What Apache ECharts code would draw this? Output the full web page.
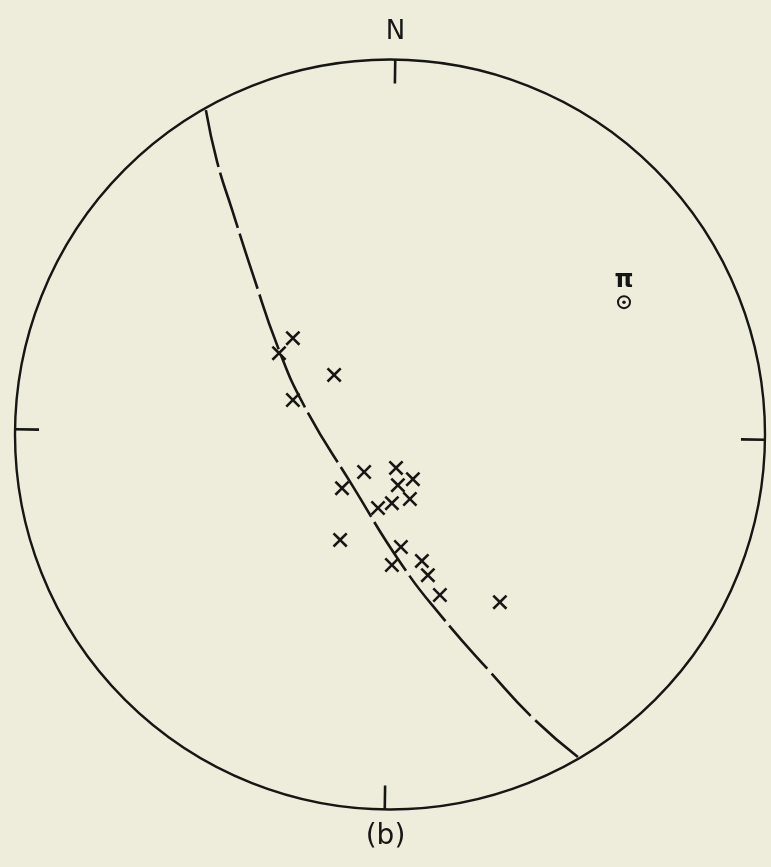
<!DOCTYPE html>
<html>
<head>
<meta charset="utf-8">
<script src="https://cdn.jsdelivr.net/npm/echarts@6/dist/echarts.min.js"></script>
<style>
  html, body { margin: 0; padding: 0; background: #eeeddb; }
  #net { width: 771px; height: 867px; }
</style>
</head>
<body>
<div id="net"></div>
<script>
// stereonet coords: x = east, y = north, primitive circle radius = 1
var greatCircle = [
  [-0.491, 0.865], [-0.461, 0.727], [-0.421, 0.599], [-0.365, 0.425],
  [-0.299, 0.233], [-0.227, 0.073], [-0.101, -0.135], [0.032, -0.348],
  [0.139, -0.487], [0.267, -0.633], [0.381, -0.756], [0.501, -0.860]
];
var poles = [
  [-0.259, 0.257], [-0.296, 0.217], [-0.149, 0.159], [-0.259, 0.092],
  [-0.069, -0.100], [0.016, -0.089], [-0.128, -0.143], [0.021, -0.135],
  [0.061, -0.119], [0.053, -0.172], [0.005, -0.183], [-0.032, -0.196],
  [-0.133, -0.281], [0.029, -0.300], [0.005, -0.348], [0.085, -0.337],
  [0.101, -0.375], [0.133, -0.428], [0.293, -0.447]
];
var piPole = [[0.624, 0.353]];
var cardinalTicks = [0, 90, 180, 270];

var ink = '#161614';
var crossPath = 'path://M1.2,0L5,3.8L8.8,0L10,1.2L6.2,5L10,8.8L8.8,10L5,6.2L1.2,10L0,8.8L3.8,5L0,1.2Z';

var chart = echarts.init(document.getElementById('net'));
chart.setOption({
  backgroundColor: '#eeeddb',
  animation: false,
  title: {
    text: '(b)',
    left: 'center',
    top: 818,
    textStyle: { fontFamily: 'DejaVu Sans', fontSize: 28, fontWeight: 'normal', color: ink }
  },
  polar: { center: [390, 434.5], radius: 375 },
  angleAxis: {
    type: 'value',
    min: 0,
    max: 360,
    interval: 90,
    startAngle: 89.2,
    clockwise: true,
    axisLine: { lineStyle: { color: ink, width: 2.4 } },
    axisTick: { show: true, inside: true, length: 24, lineStyle: { color: ink, width: 2.6 } },
    axisLabel: {
      margin: 14,
      fontFamily: 'DejaVu Sans',
      fontSize: 26,
      color: ink,
      formatter: function (v) { return v === cardinalTicks[0] ? 'N' : ''; }
    },
    splitLine: { show: false }
  },
  radiusAxis: {
    min: 0, max: 1,
    axisLine: { show: false }, axisTick: { show: false },
    axisLabel: { show: false }, splitLine: { show: false }
  },
  grid: { left: 15, top: 59.5, width: 750, height: 750 },
  xAxis: { type: 'value', min: -1, max: 1, show: false },
  yAxis: { type: 'value', min: -1, max: 1, show: false },
  series: [
    {
      type: 'line',
      data: greatCircle,
      smooth: true,
      showSymbol: false,
      lineStyle: { color: ink, width: 2.6, type: [58, 6] },
      z: 2
    },
    {
      type: 'scatter',
      data: poles,
      symbol: crossPath,
      symbolSize: 15,
      itemStyle: { color: ink, opacity: 1 },
      z: 3
    },
    {
      type: 'scatter',
      data: piPole,
      symbol: 'circle',
      symbolSize: 12,
      itemStyle: { color: 'rgba(0,0,0,0)', borderColor: ink, borderWidth: 2, opacity: 1 },
      label: {
        show: true,
        position: 'top',
        distance: 2,
        formatter: 'π',
        fontFamily: 'DejaVu Sans',
        fontSize: 24,
        fontWeight: 'bold',
        color: ink
      },
      z: 3
    },
    {
      type: 'scatter',
      data: piPole,
      symbol: 'circle',
      symbolSize: 3.5,
      itemStyle: { color: ink, opacity: 1 },
      z: 4
    }
  ]
});
</script>
</body>
</html>
